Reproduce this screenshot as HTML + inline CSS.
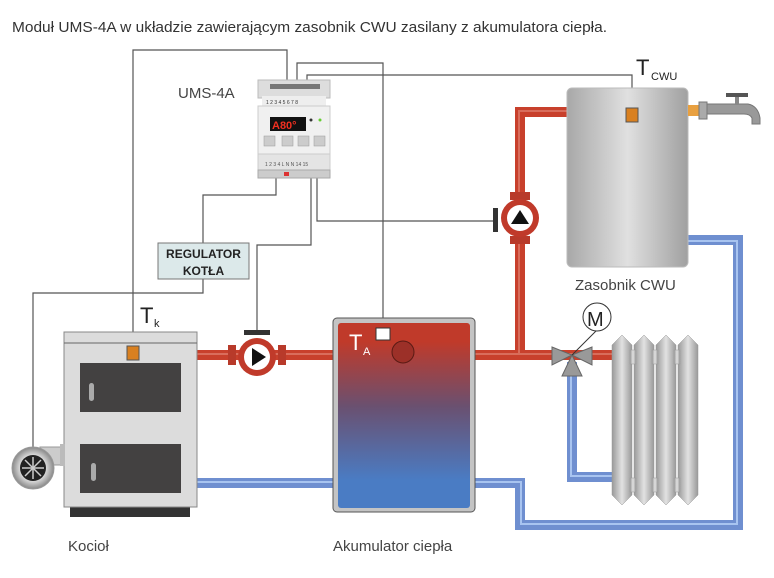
<!DOCTYPE html>
<html><head><meta charset="utf-8"><style>
html,body{margin:0;padding:0;background:#fff;width:774px;height:578px;overflow:hidden}
svg{display:block}
text{font-family:"Liberation Sans",sans-serif}
</style></head><body>
<svg width="774" height="578" viewBox="0 0 774 578" xmlns="http://www.w3.org/2000/svg">
<defs>
<linearGradient id="acc" x1="0" y1="0" x2="0" y2="1">
<stop offset="0.1" stop-color="#c03a2a"/><stop offset="0.45" stop-color="#6a5070"/><stop offset="0.85" stop-color="#4a7cc4"/></linearGradient>
<linearGradient id="tank" x1="0" y1="0" x2="1" y2="0">
<stop offset="0" stop-color="#a8a8a8"/><stop offset="0.5" stop-color="#e0e0e0"/><stop offset="1" stop-color="#a0a0a0"/></linearGradient>
<linearGradient id="rad" x1="0" y1="0" x2="1" y2="0">
<stop offset="0" stop-color="#999"/><stop offset="0.5" stop-color="#e2e2e2"/><stop offset="1" stop-color="#999"/></linearGradient>
<radialGradient id="fan"><stop offset="0.6" stop-color="#ddd"/><stop offset="1" stop-color="#888"/></radialGradient>
</defs>
<text x="12" y="32" font-size="15" fill="#333" textLength="595" lengthAdjust="spacingAndGlyphs">Moduł UMS-4A w układzie zawierającym zasobnik CWU zasilany z akumulatora ciepła.</text>

<!-- wires -->
<g fill="none" stroke="#555" stroke-width="1.2">
<polyline points="287,80 287,50 133,50 133,346"/>
<polyline points="297,80 297,63 383,63 383,328"/>
<polyline points="307,80 307,75 632,75 632,108"/>
<polyline points="276,176 276,195 203,195 203,243"/>
<polyline points="203,279 203,293 33,293 33,450"/>
<polyline points="311,176 311,245 257,245 257,330"/>
<polyline points="317,176 317,221 497,221"/>
</g>

<!-- red pipes -->
<g fill="none" stroke="#c8402c" stroke-width="10">
<line x1="197" y1="355" x2="333" y2="355"/>
<polyline points="475,355 520,355 520,112 568,112"/>
<line x1="520" y1="355" x2="612" y2="355"/>
</g>
<g fill="none" stroke="#e08070" stroke-width="2" opacity="0.7">
<line x1="197" y1="354" x2="333" y2="354"/>
<polyline points="475,354 519,354 519,111 568,111"/>
<line x1="520" y1="354" x2="612" y2="354"/>
</g>
<!-- blue pipes -->
<g fill="none" stroke="#6f8fd0" stroke-width="10">
<line x1="197" y1="483" x2="333" y2="483"/>
<polyline points="475,483 520,483 520,525 738,525 738,240 688,240"/>
<polyline points="572,362 572,477 612,477"/>
</g>
<g fill="none" stroke="#a8c4f0" stroke-width="2">
<line x1="197" y1="482" x2="333" y2="482"/>
<polyline points="475,482 521,482 521,524 737,524 737,241 688,241"/>
<polyline points="571,362 571,476 612,476"/>
</g>

<!-- boiler -->
<rect x="70" y="506" width="120" height="11" fill="#333"/>
<rect x="64" y="332" width="133" height="175" fill="#dcdcdc" stroke="#888"/>
<line x1="64" y1="343" x2="197" y2="343" stroke="#666"/>
<rect x="80" y="363" width="101" height="49" fill="#434141"/>
<rect x="80" y="444" width="101" height="49" fill="#434141"/>
<rect x="89" y="383" width="5" height="18" rx="2.5" fill="#aaa"/>
<rect x="91" y="463" width="5" height="18" rx="2.5" fill="#aaa"/>
<rect x="127" y="346" width="12" height="14" fill="#d98020" stroke="#555"/>
<text x="140" y="323" font-size="22" fill="#222">T</text><text x="154" y="327" font-size="11" fill="#222">k</text>
<!-- fan -->
<rect x="40" y="447" width="22" height="18" fill="#ccc" stroke="#999"/>
<rect x="60" y="444" width="5" height="22" fill="#bbb"/>
<circle cx="33" cy="468" r="21" fill="url(#fan)" stroke="#999"/>
<circle cx="33" cy="468" r="13" fill="#222"/>
<g stroke="#ccc" stroke-width="1.5"><line x1="22" y1="468" x2="44" y2="468"/><line x1="33" y1="457" x2="33" y2="479"/><line x1="25" y1="460" x2="41" y2="476"/><line x1="41" y1="460" x2="25" y2="476"/></g>

<!-- pump1 -->
<rect x="244" y="330" width="26" height="5" fill="#333"/>
<rect x="228" y="345" width="8" height="20" fill="#b83a2a"/>
<rect x="278" y="345" width="8" height="20" fill="#b83a2a"/>
<circle cx="257" cy="357" r="19" fill="#c03a2a"/>
<circle cx="257" cy="357" r="13" fill="#fff"/>
<polygon points="252,348 252,366 266,357" fill="#111"/>

<!-- accumulator -->
<rect x="333" y="318" width="142" height="194" rx="4" fill="#c4c4c4" stroke="#555"/>
<rect x="338" y="323" width="132" height="185" rx="3" fill="url(#acc)"/>
<rect x="376" y="328" width="14" height="12" fill="#fff" stroke="#333"/>
<circle cx="403" cy="352" r="11" fill="#9c3028" stroke="#5a1a14"/>
<text x="349" y="350" font-size="22" fill="#fff">T</text><text x="363" y="355" font-size="11" fill="#fff">A</text>

<!-- pump2 -->
<rect x="493" y="208" width="5" height="24" fill="#333"/>
<rect x="510" y="192" width="20" height="8" fill="#b83a2a"/>
<rect x="510" y="236" width="20" height="8" fill="#b83a2a"/>
<circle cx="520" cy="218" r="19" fill="#c03a2a"/>
<circle cx="520" cy="218" r="13" fill="#fff"/>
<polygon points="511,224 529,224 520,210" fill="#111"/>

<!-- tank -->
<rect x="567" y="88" width="121" height="179" rx="5" fill="url(#tank)" stroke="#bbb"/>
<rect x="626" y="108" width="12" height="14" fill="#d98020" stroke="#555"/>
<text x="636" y="75" font-size="22" fill="#222">T</text><text x="651" y="80" font-size="11" fill="#222">CWU</text>
<text x="575" y="290" font-size="15" fill="#444">Zasobnik CWU</text>
<!-- tap -->
<rect x="688" y="105" width="12" height="11" fill="#e8a040"/>
<rect x="699" y="102" width="8" height="17" fill="#aaa" stroke="#777"/>
<path d="M707,104 H748 Q758,106 760,118 V124 H752 V118 Q750,114 744,114 H707 Z" fill="#999" stroke="#777"/>
<rect x="735" y="96" width="4" height="8" fill="#888"/>
<rect x="726" y="93" width="22" height="4" fill="#555"/>

<!-- valve -->
<polygon points="552,347 572,355 552,365" fill="#999" stroke="#666"/>
<polygon points="592,347 572,355 592,365" fill="#999" stroke="#666"/>
<polygon points="562,376 572,355 582,376" fill="#999" stroke="#666"/>
<line x1="572" y1="355" x2="597" y2="330" stroke="#333"/>
<circle cx="597" cy="317" r="14" fill="#fff" stroke="#333"/>
<text x="587" y="326" font-size="20" fill="#222">M</text>

<!-- radiator -->
<g fill="url(#rad)" stroke="#999" stroke-width="0.5">
<path d="M612,345 L622,335 L632,345 V495 L622,505 L612,495 Z"/>
<path d="M634,345 L644,335 L654,345 V495 L644,505 L634,495 Z"/>
<path d="M656,345 L666,335 L676,345 V495 L666,505 L656,495 Z"/>
<path d="M678,345 L688,335 L698,345 V495 L688,505 L678,495 Z"/>
<rect x="630" y="350" width="6" height="14"/><rect x="652" y="350" width="6" height="14"/><rect x="674" y="350" width="6" height="14"/>
<rect x="630" y="478" width="6" height="14"/><rect x="652" y="478" width="6" height="14"/><rect x="674" y="478" width="6" height="14"/>
</g>

<!-- UMS-4A module -->
<text x="178" y="98" font-size="15" fill="#444">UMS-4A</text>
<rect x="258" y="80" width="72" height="18" fill="#ddd" stroke="#bbb"/>
<rect x="270" y="84" width="50" height="5" fill="#777"/>
<rect x="262" y="96" width="64" height="10" fill="#eee"/>
<text x="266" y="104" font-size="5" fill="#333">1 2 3 4 5 6 7 8</text>
<rect x="258" y="106" width="72" height="48" fill="#f0f0f0" stroke="#ccc"/>
<rect x="270" y="117" width="36" height="14" fill="#111"/>
<text x="272" y="129" font-size="11" fill="#f03020" font-weight="bold">A80°</text>
<circle cx="311" cy="120" r="1.5" fill="#333"/><circle cx="320" cy="120" r="1.5" fill="#6c3"/>
<g fill="#ccc" stroke="#999" stroke-width="0.5">
<rect x="264" y="136" width="11" height="10"/><rect x="282" y="136" width="11" height="10"/><rect x="298" y="136" width="11" height="10"/><rect x="314" y="136" width="11" height="10"/></g>
<rect x="258" y="154" width="72" height="16" fill="#e4e4e4" stroke="#ccc"/>
<text x="265" y="166" font-size="5" fill="#555">1 2 3 4     L N N 14 15</text>
<rect x="258" y="170" width="72" height="8" fill="#ccc" stroke="#aaa"/>
<rect x="284" y="172" width="5" height="4" fill="#d33"/>

<!-- regulator -->
<rect x="158" y="243" width="91" height="36" fill="#dce9ea" stroke="#777"/>
<text x="203.5" y="258" font-size="12" font-weight="bold" fill="#222" text-anchor="middle">REGULATOR</text>
<text x="203.5" y="275" font-size="12" font-weight="bold" fill="#222" text-anchor="middle">KOTŁA</text>

<text x="68" y="551" font-size="15" fill="#444">Kocioł</text>
<text x="333" y="551" font-size="15" fill="#444">Akumulator ciepła</text>
</svg>
</body></html>
